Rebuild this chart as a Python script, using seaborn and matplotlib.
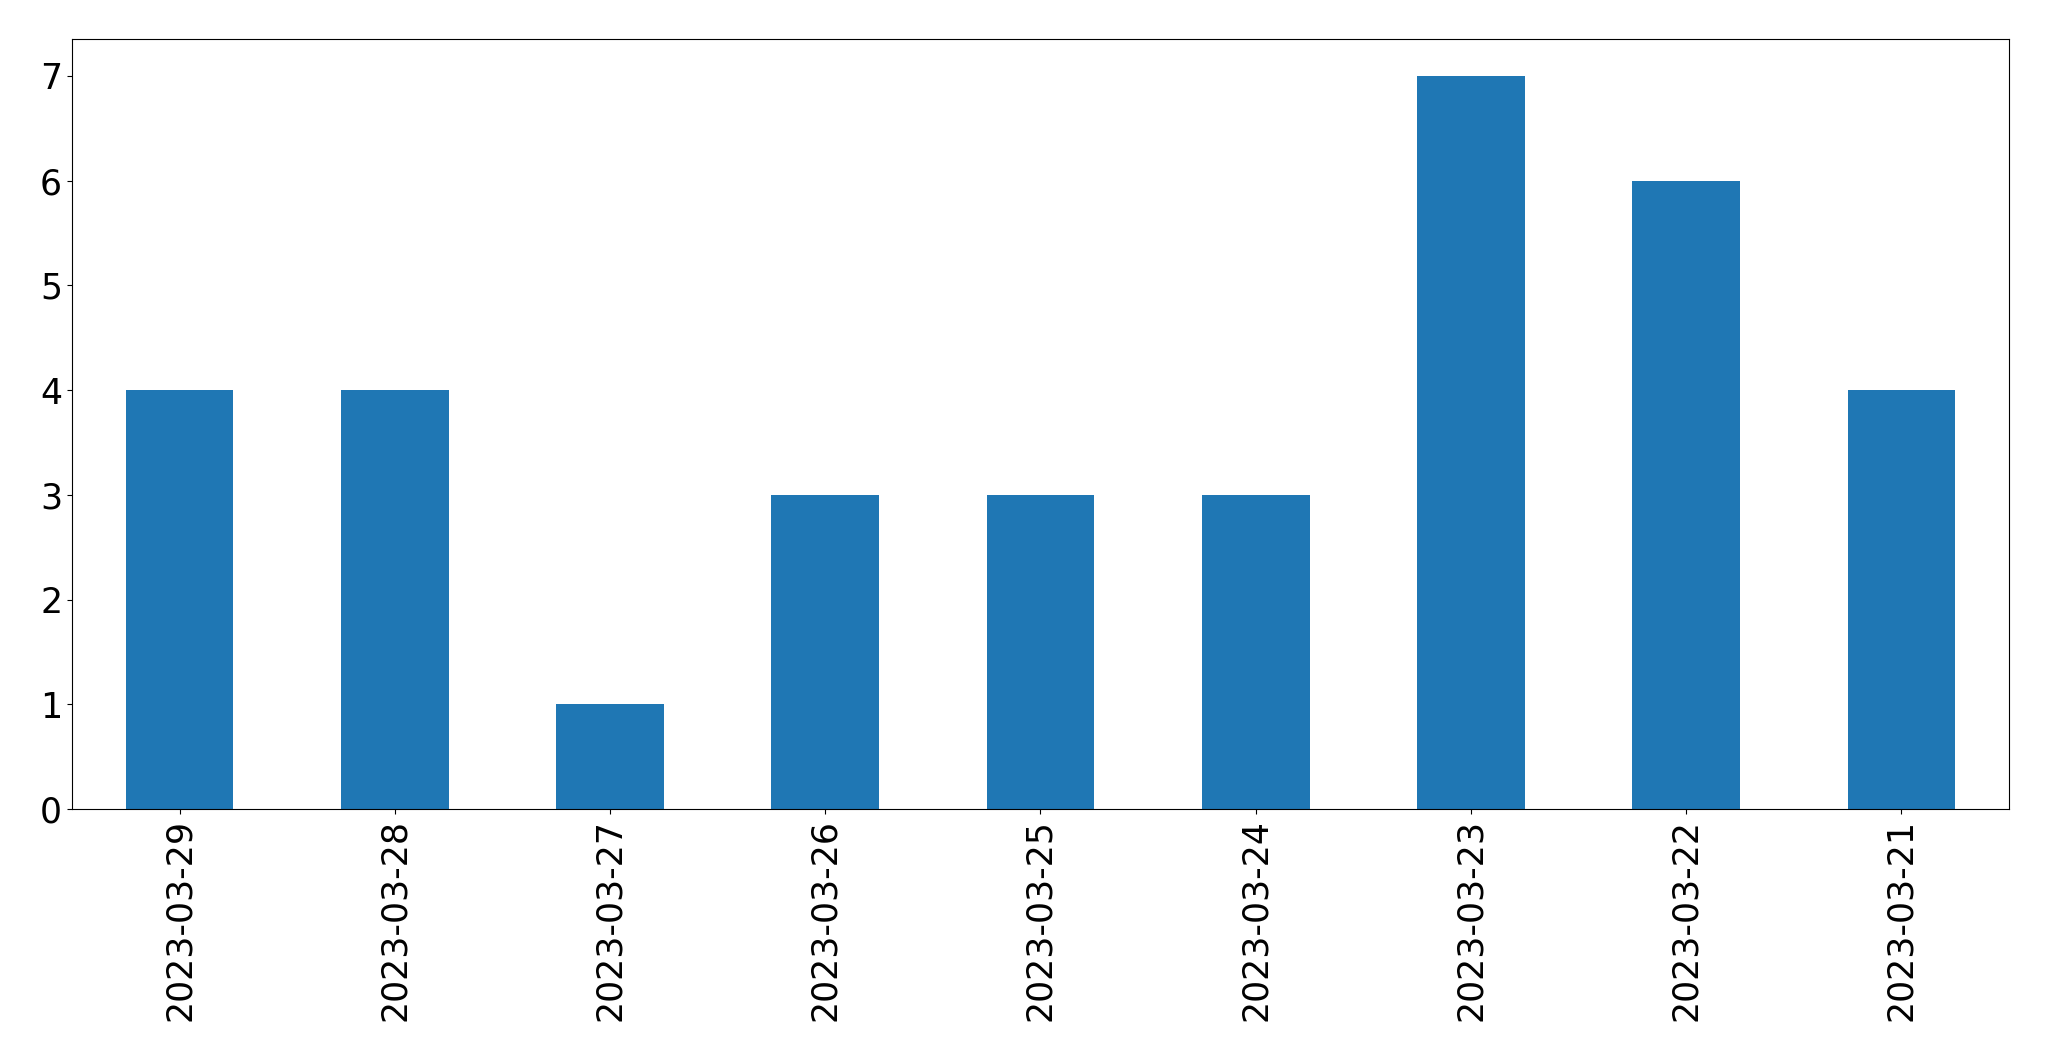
import pandas as pd
import matplotlib
matplotlib.use("Agg")
import matplotlib.pyplot as plt
import seaborn as sns

# data
dates = ["2023-03-29", "2023-03-28", "2023-03-27", "2023-03-26", "2023-03-25",
         "2023-03-24", "2023-03-23", "2023-03-22", "2023-03-21"]
counts = [4, 4, 1, 3, 3, 3, 7, 6, 4]

df = pd.DataFrame({"date": dates, "count": counts})

fig, ax = plt.subplots(figsize=(20.49, 10.61), dpi=100)
fig.subplots_adjust(left=0.0351, right=0.9805, top=0.963, bottom=0.2375)

sns.barplot(data=df, x="date", y="count", order=dates, color="#1f77b4",
            saturation=1, width=0.5, linewidth=0, ax=ax)

ax.set_xlim(-0.5, len(dates) - 0.5)
ax.set_ylim(0, 7.35)
ax.set_xlabel("")
ax.set_ylabel("")
ax.tick_params(axis="x", labelrotation=90, labelsize=25)
ax.tick_params(axis="y", labelsize=25)

fig.savefig("out.png", dpi=100)
